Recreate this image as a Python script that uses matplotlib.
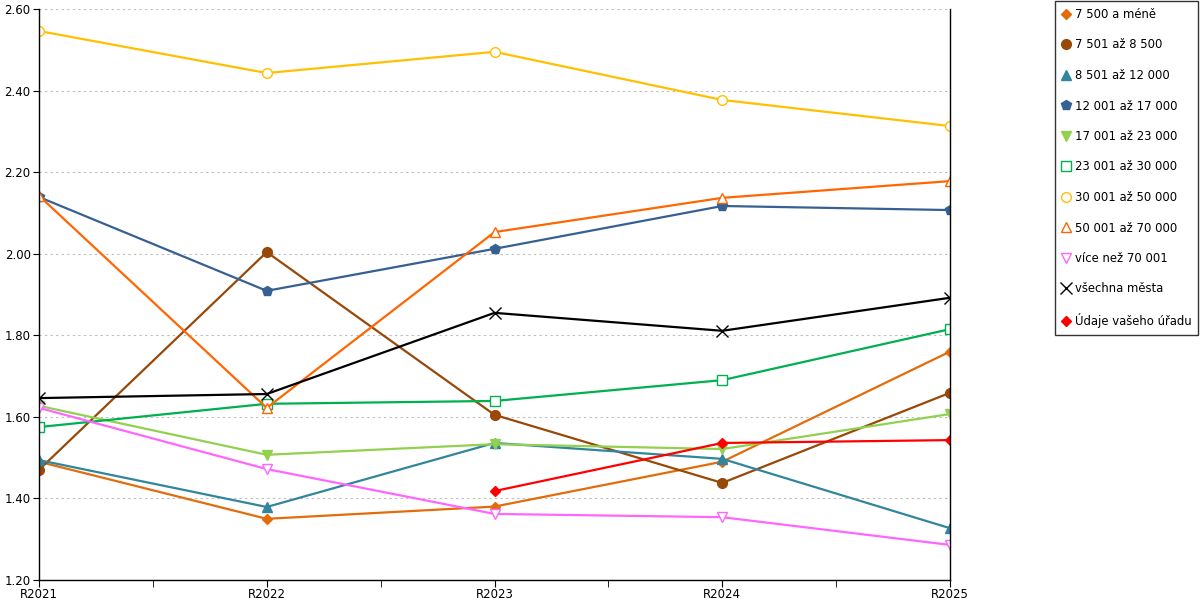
import numpy as np
import matplotlib
matplotlib.use("Agg")
import matplotlib.pyplot as plt

years = ["R2021", "R2022", "R2023", "R2024", "R2025"]

s_7500 = [1.49, 1.35, 1.38, 1.49, 1.76]
s_8500 = [1.47, 2.004, 1.605, 1.438, 1.659]
s_12000 = [1.494, 1.379, 1.536, 1.497, 1.327]
s_17000 = [2.139, 1.909, 2.012, 2.117, 2.107]
s_23000 = [1.627, 1.507, 1.533, 1.521, 1.607]
s_30000 = [1.575, 1.632, 1.639, 1.69, 1.815]
s_50000 = [2.546, 2.443, 2.495, 2.377, 2.313]
s_70000 = [2.142, 1.622, 2.053, 2.137, 2.178]
s_over = [1.622, 1.472, 1.362, 1.354, 1.286]
s_all = [1.646, 1.656, 1.855, 1.811, 1.892]
s_office = [np.nan, np.nan, 1.418, 1.536, 1.543]

series = [
    ("7 500 a méně", s_7500, "#E36C0A", "D", True),
    ("7 501 až 8 500", s_8500, "#984807", "o", True),
    ("8 501 až 12 000", s_12000, "#31859C", "^", True),
    ("12 001 až 17 000", s_17000, "#376092", "p", True),
    ("17 001 až 23 000", s_23000, "#92D050", "v", True),
    ("23 001 až 30 000", s_30000, "#00B050", "s", False),
    ("30 001 až 50 000", s_50000, "#FFC000", "o", False),
    ("50 001 až 70 000", s_70000, "#FF6600", "^", False),
    ("více než 70 001", s_over, "#FF66FF", "v", False),
    ("všechna města", s_all, "#000000", "x", True),
    ("Údaje vašeho úřadu", s_office, "#FF0000", "D", True),
]

fig = plt.figure(figsize=(12, 6), dpi=100)
ax = fig.add_axes([39 / 1200, 20 / 600, 911 / 1200, 571 / 600])

x = np.arange(len(years))
handles = []
for name, vals, col, mk, filled in series:
    ms = 7 if mk not in ("D",) else 5.5
    if mk == "x":
        ms = 8
    h, = ax.plot(x, vals, color=col, lw=1.6, marker=mk, markersize=ms,
                 markerfacecolor=col if filled else "white",
                 markeredgecolor=col, markeredgewidth=1.0, label=name)
    handles.append(h)

ax.set_xlim(0, 4)
ax.set_ylim(1.2, 2.6)
ax.set_yticks(np.arange(1.2, 2.61, 0.2))
ax.set_yticklabels(["%.2f" % v for v in np.arange(1.2, 2.61, 0.2)], fontsize=8.5)
ax.set_xticks(x)
ax.set_xticklabels(years, fontsize=8.5)
ax.set_xticks(x[:-1] + 0.5, minor=True)
ax.tick_params(axis="x", which="both", length=5, direction="out", pad=1)
ax.tick_params(axis="y", length=4, direction="out", pad=2)
ax.grid(axis="y", color="#BBBBBB", ls=(0, (2, 3)), lw=0.8)
ax.spines["top"].set_visible(False)
for s in ("left", "bottom", "right"):
    ax.spines[s].set_color("black")
    ax.spines[s].set_linewidth(1.0)

leg = fig.legend(handles=handles, loc="upper left", bbox_to_anchor=(1055 / 1200, 1 - 1 / 600),
                 fontsize=8.4, frameon=True, fancybox=False, labelspacing=1.5,
                 handlelength=0.7, handletextpad=0.4, borderpad=0.6, borderaxespad=0)
leg.get_frame().set_edgecolor("black")
leg.get_frame().set_linewidth(1.0)
for lh in leg.legend_handles:
    lh.set_linestyle("")

fig.savefig("out.png", dpi=100)
